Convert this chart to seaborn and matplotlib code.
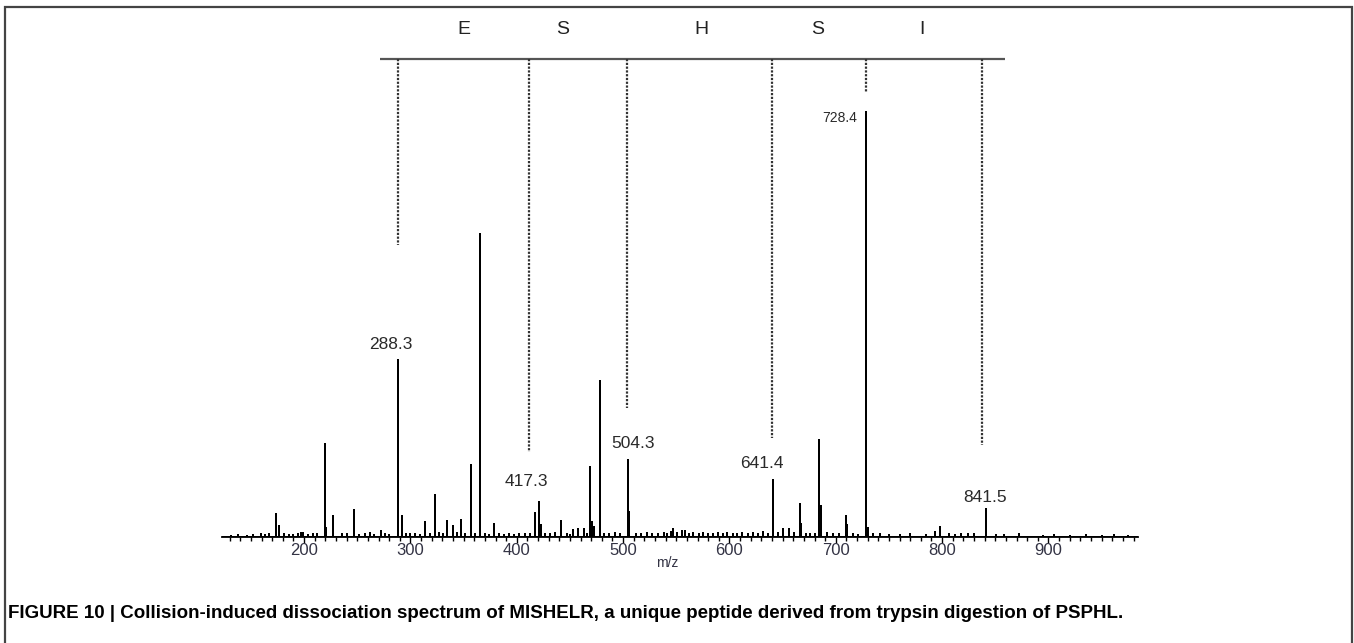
import matplotlib
matplotlib.use("Agg")
import matplotlib.pyplot as plt
from matplotlib.patches import Rectangle
from matplotlib.ticker import MultipleLocator
import numpy as np
import pandas as pd
import seaborn as sns

# Fragment peaks (m/z, relative intensity %, base peak 728.4 = 100)
peak_mz = [159.5, 173.6, 176.5, 197.0, 219.6, 221.0, 227.0, 247.0, 272.0, 288.3,
           291.8, 314.0, 322.8, 334.4, 340.0, 347.5, 356.7, 365.4, 378.5, 417.3,
           421.0, 423.0, 442.0, 453.0, 458.0, 463.0, 469.0, 470.5, 473.0, 478.0,
           504.3, 505.5, 547.0, 555.0, 641.4, 650.0, 656.0, 666.0, 667.5, 684.5,
           686.0, 709.6, 711.0, 728.4, 730.0, 793.0, 798.0, 841.5]
peak_int = [0.7, 5.4, 2.6, 0.9, 21.9, 2.1, 4.9, 6.4, 1.4, 41.6,
            4.9, 3.5, 9.9, 3.8, 2.6, 4.0, 16.9, 71.3, 3.1, 5.6,
            8.2, 2.8, 3.8, 1.6, 1.9, 1.9, 16.5, 3.5, 2.4, 36.7,
            18.1, 5.9, 1.9, 1.4, 13.4, 1.9, 1.9, 7.8, 3.1, 22.8,
            7.3, 4.9, 2.8, 100.0, 2.1, 1.2, 2.4, 6.6]

# Low-level baseline signal
noise_mz = [131, 138, 146, 152, 163, 167, 181, 186, 190, 194,
            199, 204, 208, 212, 236, 240, 252, 257, 262, 266,
            276, 280, 296, 300, 304, 309, 318, 327, 331, 344,
            351, 361, 370, 374, 383, 388, 393, 397, 402, 408,
            412, 427, 431, 436, 447, 450, 466, 482, 487, 492,
            497, 512, 517, 522, 527, 533, 538, 541, 545, 551,
            558, 562, 566, 571, 575, 580, 585, 589, 594, 598,
            603, 607, 612, 617, 622, 627, 632, 636, 646, 661,
            672, 676, 680, 692, 697, 703, 716, 721, 735, 742,
            750, 760, 770, 785, 806, 812, 818, 824, 830, 851,
            858, 872, 895, 905, 920, 935, 950, 962, 975]
noise_int = [0.3, 0.4, 0.3, 0.5, 0.4, 0.6, 0.8, 0.5, 0.4, 0.6,
             0.9, 0.5, 0.7, 0.6, 0.8, 0.6, 0.5, 0.7, 0.9, 0.4,
             0.6, 0.5, 0.7, 0.6, 0.8, 0.5, 0.7, 0.9, 0.6, 1.0,
             0.8, 0.6, 0.7, 0.5, 0.6, 0.4, 0.7, 0.5, 0.8, 0.6,
             0.7, 0.8, 0.6, 0.9, 0.7, 0.5, 0.8, 0.6, 0.7, 0.9,
             0.6, 0.8, 0.7, 0.9, 0.6, 0.8, 1.0, 0.7, 1.2, 0.9,
             1.4, 0.8, 1.0, 0.7, 0.9, 0.6, 0.8, 1.0, 0.7, 0.9,
             0.8, 0.6, 0.9, 0.7, 1.0, 0.8, 1.1, 0.7, 1.0, 0.9,
             0.8, 0.6, 0.7, 0.9, 0.6, 0.8, 0.7, 0.5, 0.8, 0.6,
             0.5, 0.4, 0.6, 0.5, 0.7, 0.5, 0.6, 0.8, 0.6, 0.5,
             0.4, 0.6, 0.3, 0.4, 0.3, 0.4, 0.3, 0.5, 0.3]

# Labelled fragment ions and their label offsets (pixels)
label_mz = [288.3, 417.3, 504.3, 641.4, 728.4, 841.5]
label_dx = [-7, -9, 5, -12, -9, -1]
label_dy = [16, 32, 17, 17, -6, 11]
label_ha = ["center", "center", "center", "center", "right", "center"]
label_size = [12.5, 12.5, 12.5, 12.5, 10, 12.5]

# Sequence ladder
ladder_mz = [288.3, 411.5, 503.6, 640.0, 728.4, 837.5]
ladder_end = [68.7, 20.0, 30.4, 23.3, 104.7, 21.6]
residues = ["E", "S", "H", "S", "I"]
residue_mz = [350.4, 443.5, 573.3, 683.3, 781.0]

tick_labels = [200, 300, 400, 500, 600, 700, 800, 900]

caption = ("FIGURE 10 | Collision-induced dissociation spectrum of MISHELR, "
           "a unique peptide derived from trypsin digestion of PSPHL.")

sns.set_theme(style="white")
plt.rcParams["font.family"] = ["Liberation Sans", "DejaVu Sans"]

W, H = 1354, 643
fig = plt.figure(figsize=(W / 100, H / 100), dpi=100)
fig.patch.set_facecolor("white")
ax = fig.add_axes([222 / W, (H - 537) / H, (1138 - 222) / W, (537 - 7) / H])
ax.set_facecolor("none")

XMIN, XMAX = 122.8, 984.2
YMAX = 530 / 4.25

# Build the stick profile: baseline -> top -> baseline for every peak
all_mz = np.array(peak_mz + noise_mz, dtype=float)
all_int = np.array(peak_int + noise_int, dtype=float)
order = np.argsort(all_mz)
xs, ys = [XMIN], [0.0]
for m, v in zip(all_mz[order], all_int[order]):
    xs += [m, m, m]
    ys += [0.0, v, 0.0]
xs.append(XMAX)
ys.append(0.0)
spec = pd.DataFrame({"mz": xs, "intensity": ys})
sns.lineplot(data=spec, x="mz", y="intensity", sort=False, estimator=None,
             color="black", lw=1.4, ax=ax)

ax.set_xlim(XMIN, XMAX)
ax.set_ylim(0, YMAX)

# Peak labels
lookup = dict(zip(peak_mz, peak_int))
for m, dx, dy, ha, fs in zip(label_mz, label_dx, label_dy, label_ha, label_size):
    ax.annotate(f"{m:.1f}", xy=(m, lookup[m]), xytext=(dx, dy),
                textcoords="offset pixels", ha=ha, va="center",
                fontsize=fs, color="#2a2a2a")

# Sequence ladder with dotted drop lines
bar_y = 112.5
ax.plot([271.4, 859.0], [bar_y, bar_y], color="#555555", lw=1.6,
        solid_capstyle="butt", clip_on=False)
for m, e in zip(ladder_mz, ladder_end):
    ax.plot([m, m], [bar_y, e], color="#333333", lw=1.6,
            linestyle=(0, (1, 0.7)), clip_on=False)
for r, m in zip(residues, residue_mz):
    ax.text(m, 119.3, r, ha="center", va="center", fontsize=14,
            color="#222222")

# Axis styling
for s in ["top", "right", "left"]:
    ax.spines[s].set_visible(False)
ax.spines["bottom"].set_color("black")
ax.spines["bottom"].set_linewidth(1.3)
ax.set_yticks([])
ax.set_xticks(tick_labels)
ax.set_xticklabels([str(t) for t in tick_labels], fontsize=12, color="#333344")
ax.xaxis.set_minor_locator(MultipleLocator(10))
ax.tick_params(axis="x", which="major", direction="out", length=4, width=1,
               color="black", bottom=True, pad=0.5)
ax.tick_params(axis="x", which="minor", direction="out", length=3, width=1,
               color="black", bottom=True)
ax.set_xlabel("")
ax.set_ylabel("")
ax.text((667 - 222) / (1138 - 222), -(563 - 537) / 530, "m/z",
        transform=ax.transAxes, ha="center", va="center", fontsize=10,
        color="#333344")

# Page frame and caption
fig.add_artist(Rectangle((5 / W, -0.05), (1352 - 5) / W, 1.05 - 7 / H,
                         transform=fig.transFigure, fill=False,
                         edgecolor="#444444", lw=1.6))
cap = fig.text(8 / W, 1 - 613 / H, caption, ha="left", va="center",
               fontsize=12, fontweight="bold", color="black")
# Fit the caption to its line width
renderer = fig.canvas.get_renderer()
w = cap.get_window_extent(renderer).width
cap.set_fontsize(12 * (1112 / w))

fig.savefig("out.png", dpi=100, facecolor="white")
